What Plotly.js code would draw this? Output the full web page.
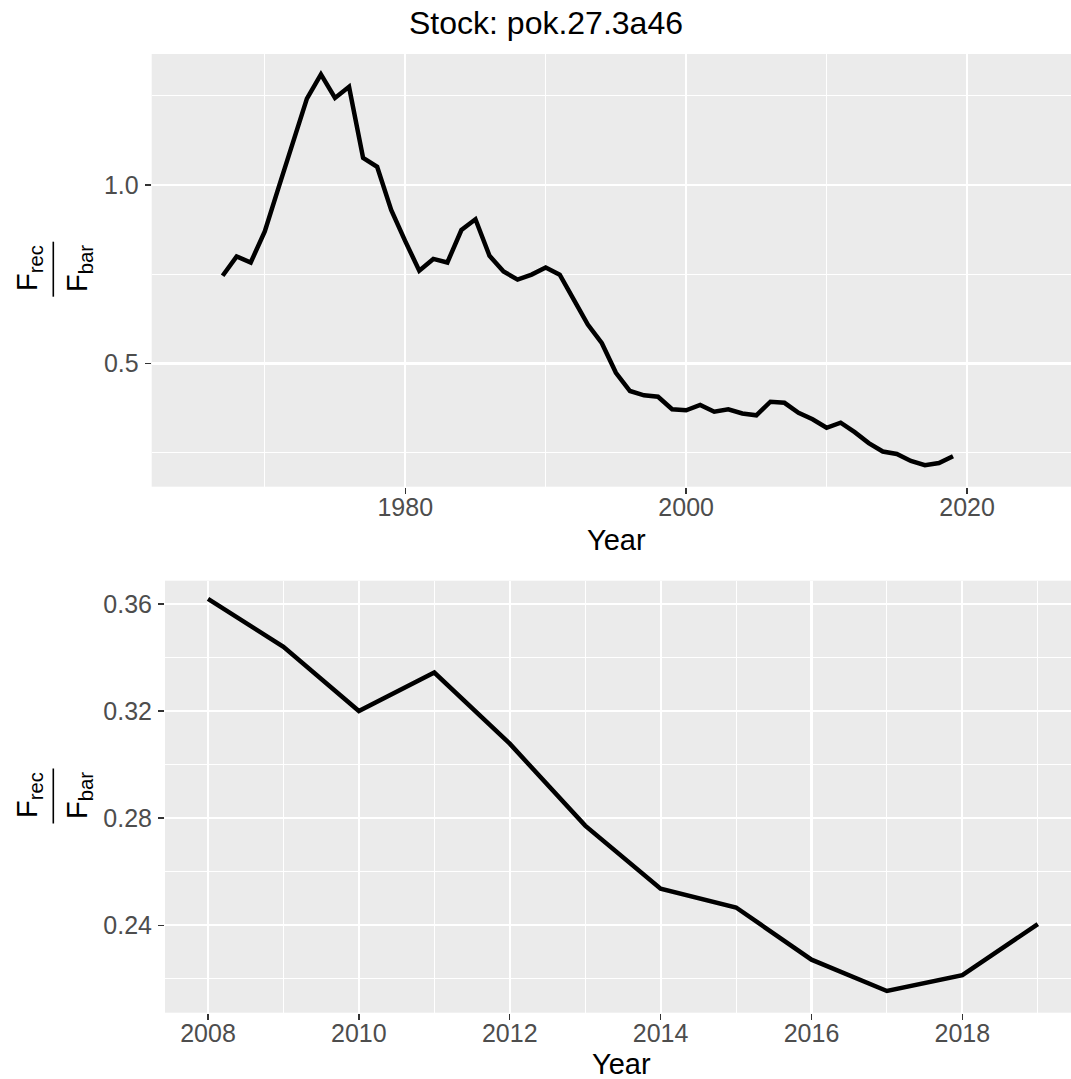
<!DOCTYPE html>
<html>
<head>
<meta charset="utf-8">
<script src="https://cdn.plot.ly/plotly-3.0.1.min.js"></script>
<style>
  html, body { margin: 0; padding: 0; background: #ffffff; overflow: hidden; }
  #chart { width: 1071px; height: 1079px; }
</style>
</head>
<body>
<div id="chart"></div>
<script>
// ---- data ----
const chartTitle = "Stock: pok.27.3a46";
const xTitle = "Year";
const numeratorLabel = "F<sub>rec</sub>";
const denominatorLabel = "F<sub>bar</sub>";

// full series (top panel)
const yearsAll = [1967,1968,1969,1970,1971,1972,1973,1974,1975,1976,1977,1978,1979,
  1980,1981,1982,1983,1984,1985,1986,1987,1988,1989,1990,1991,1992,1993,1994,1995,
  1996,1997,1998,1999,2000,2001,2002,2003,2004,2005,2006,2007,
  2008,2009,2010,2011,2012,2013,2014,2015,2016,2017,2018,2019];
const ratioEarly = [0.746,0.800,0.783,0.870,0.995,1.120,1.242,1.310,1.244,1.275,1.076,1.051,0.930,
  0.843,0.760,0.793,0.783,0.874,0.904,0.802,0.758,0.735,0.749,0.769,0.749,0.679,0.609,0.557,0.474,
  0.423,0.411,0.407,0.372,0.369,0.384,0.365,0.372,0.360,0.355,0.393,0.390];

// recent series (bottom panel)
const yearsRecent = [2008,2009,2010,2011,2012,2013,2014,2015,2016,2017,2018,2019];
const ratioRecent = [0.3619,0.3440,0.3200,0.3344,0.3078,0.2772,0.2536,0.2466,0.2271,0.2154,0.2213,0.2404];

const ratioAll = ratioEarly.concat(ratioRecent);

// ---- styling ----
const W = 1071, H = 1079;
const FONT = "Liberation Sans, Arial, sans-serif";
const tickFont = {family: FONT, size: 25, color: "#4D4D4D"};
const axTitleFont = {family: FONT, size: 29, color: "#000000"};
const gridMajor = "#FFFFFF";

function px2x(p) { return p / W; }
function px2y(p) { return (H - p) / H; }

const lineStyle = {color: "#000000", width: 4.5};

const traces = [
  {x: yearsAll, y: ratioAll, type: "scatter", mode: "lines", line: lineStyle,
   xaxis: "x", yaxis: "y", showlegend: false, hoverinfo: "x+y"},
  {x: yearsRecent, y: ratioRecent, type: "scatter", mode: "lines", line: lineStyle,
   xaxis: "x2", yaxis: "y2", showlegend: false, hoverinfo: "x+y"}
];

function axisBase(standoff) {
  return {
    showgrid: true, gridcolor: gridMajor, gridwidth: 2.2,
    zeroline: false, showline: false,
    ticks: "outside", ticklen: 6, tickwidth: 1.3, tickcolor: "#333333",
    tickfont: tickFont, ticklabelstandoff: standoff,
    fixedrange: true
  };
}

const layout = {
  width: W, height: H,
  margin: {l: 0, r: 0, t: 0, b: 0},
  paper_bgcolor: "#FFFFFF",
  plot_bgcolor: "#EBEBEB",
  font: {family: FONT},
  title: {text: chartTitle, font: {size: 32, color: "#000000", family: FONT},
          x: px2x(546), xanchor: "center", y: 1 - 23 / H, yanchor: "middle"},
  xaxis: Object.assign(axisBase(-8), {
    domain: [px2x(151.7), 1], anchor: "y",
    range: [1961.95, 2027.4], tick0: 1980, dtick: 20,
    minor: {tick0: 1970, dtick: 10, showgrid: true, gridcolor: gridMajor, gridwidth: 1, ticks: ""}
  }),
  yaxis: Object.assign(axisBase(1), {
    domain: [px2y(486.7), px2y(54)], anchor: "x",
    range: [0.155, 1.367], tick0: 0, dtick: 0.5, tickformat: ".1f",
    minor: {tick0: 0, dtick: 0.25, showgrid: true, gridcolor: gridMajor, gridwidth: 1, ticks: ""}
  }),
  xaxis2: Object.assign(axisBase(-8), {
    domain: [px2x(165), 1], anchor: "y2",
    range: [2007.43, 2019.44], tick0: 2008, dtick: 2,
    minor: {tick0: 2007, dtick: 1, showgrid: true, gridcolor: gridMajor, gridwidth: 1, ticks: ""}
  }),
  yaxis2: Object.assign(axisBase(1), {
    domain: [px2y(1012.7), px2y(580.7)], anchor: "x2",
    range: [0.2073, 0.3687], tick0: 0, dtick: 0.04, tickformat: ".2f",
    minor: {tick0: 0, dtick: 0.02, showgrid: true, gridcolor: gridMajor, gridwidth: 1, ticks: ""}
  }),
  annotations: [
    {text: xTitle, xref: "paper", yref: "paper", x: px2x(616), y: px2y(540),
     xanchor: "center", yanchor: "middle", showarrow: false, font: axTitleFont},
    {text: xTitle, xref: "paper", yref: "paper", x: px2x(621), y: px2y(1064),
     xanchor: "center", yanchor: "middle", showarrow: false, font: axTitleFont},
    {text: numeratorLabel, xref: "paper", yref: "paper", x: px2x(29), y: px2y(268),
     xanchor: "center", yanchor: "middle", textangle: -90, showarrow: false, font: axTitleFont},
    {text: denominatorLabel, xref: "paper", yref: "paper", x: px2x(79), y: px2y(269),
     xanchor: "center", yanchor: "middle", textangle: -90, showarrow: false, font: axTitleFont},
    {text: numeratorLabel, xref: "paper", yref: "paper", x: px2x(29), y: px2y(795),
     xanchor: "center", yanchor: "middle", textangle: -90, showarrow: false, font: axTitleFont},
    {text: denominatorLabel, xref: "paper", yref: "paper", x: px2x(79), y: px2y(796),
     xanchor: "center", yanchor: "middle", textangle: -90, showarrow: false, font: axTitleFont}
  ],
  shapes: [
    {type: "line", xref: "paper", yref: "paper", x0: px2x(53.3), x1: px2x(53.3),
     y0: px2y(296.7), y1: px2y(241.7), line: {color: "#000000", width: 1.6}},
    {type: "line", xref: "paper", yref: "paper", x0: px2x(53.3), x1: px2x(53.3),
     y0: px2y(823.5), y1: px2y(768.5), line: {color: "#000000", width: 1.6}}
  ]
};

Plotly.newPlot("chart", traces, layout, {displayModeBar: false, staticPlot: true});
</script>
</body>
</html>
